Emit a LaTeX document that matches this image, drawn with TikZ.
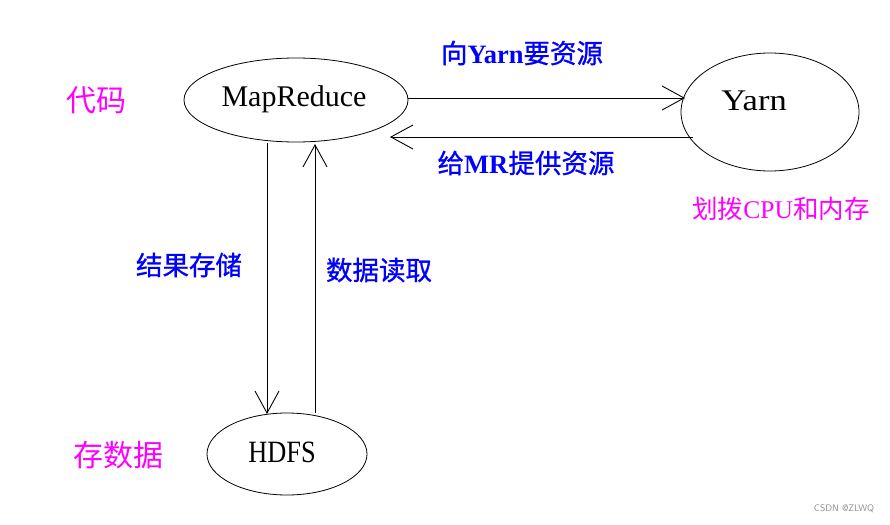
\documentclass[tikz,border=0pt]{standalone}
\usepackage{fontspec}
\setmainfont{Liberation Serif}
\newfontfamily\cjk{Noto Sans CJK SC}
\newfontfamily\cjkb[FakeBold=1]{Noto Sans CJK SC}
\usetikzlibrary{arrows.meta}
\definecolor{lblue}{RGB}{0,0,255}
\definecolor{lmag}{RGB}{255,0,255}
\tikzset{
  conn/.style={draw=black, line width=0.9pt, -{Straight Barb[length=22pt,width=24pt,line width=0.9pt]}},
  blab/.style={text=lblue, font=\fontsize{26.5}{30}\selectfont, inner sep=0pt},
  mlab/.style={text=lmag, font=\fontsize{30}{34}\selectfont, inner sep=0pt},
  nlab/.style={text=black, inner sep=0pt},
}
\begin{document}
\begin{tikzpicture}[x=1pt,y=-1pt]
\useasboundingbox[fill=white] (0,0) rectangle (890,524);
% ellipses
\draw[line width=0.8pt] (296,100) ellipse [x radius=112, y radius=42];
\draw[line width=0.8pt] (770,112) ellipse [x radius=89, y radius=59];
\draw[line width=0.8pt] (287,454) ellipse [x radius=80, y radius=41];
% invisible named anchors
\node[inner sep=0pt] (mr) at (296,100) {};
\node[inner sep=0pt] (yarn) at (770,112) {};
\node[inner sep=0pt] (hdfs) at (287,454) {};
\coordinate (a1s) at (408,98);
\coordinate (a1e) at (685,98);
\coordinate (a2s) at (693,137);
\coordinate (a2e) at (390,137);
\coordinate (a3s) at (267,143);
\coordinate (a3e) at (267,414);
\coordinate (a4s) at (315,413);
\coordinate (a4e) at (315,144);
\draw[conn] (a1s) -- (a1e);
\draw[conn] (a2s) -- (a2e);
\draw[conn] (a3s) -- (a3e);
\draw[conn] (a4s) -- (a4e);
% node texts
\node[nlab, font=\fontsize{30}{34}\selectfont] (tmr) at (294,99) {MapReduce};
\node[nlab, font=\fontsize{30}{34}\selectfont] (tyarn) at (754,101) {\scalebox{1.15}[1]{Yarn}};
\node[nlab, font=\fontsize{31}{34}\selectfont] (thdfs) at (282,452) {\scalebox{0.85}[1]{HDFS}};
% labels
\node[blab] (l1) at (522,53) {{\cjkb 向}\textbf{Yarn}{\cjkb 要资源}};
\node[blab] (l2) at (526,163) {{\cjkb 给}\textbf{MR}{\cjkb 提供资源}};
\node[blab] (l3) at (189,265) {\cjkb 结果存储};
\node[blab] (l4) at (379,270) {\cjkb 数据读取};
\node[mlab] (m1) at (96,100) {\cjk 代码};
\node[mlab] (m2) at (118,455) {\cjk 存数据};
\node[text=lmag, font=\fontsize{25.5}{30}\selectfont, inner sep=0pt] (m3) at (781,209) {{\cjk 划拨}CPU{\cjk 和内存}};
\node[text=black!45, font=\sffamily\fontsize{9.5}{11}\selectfont, inner sep=0pt] (wm) at (844,509) {CSDN @ZLWQ};
\end{tikzpicture}
\end{document}
